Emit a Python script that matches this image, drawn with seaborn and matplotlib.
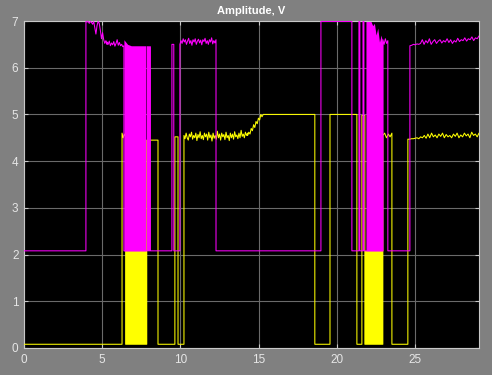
import numpy as np
import pandas as pd
import matplotlib
matplotlib.use("Agg")
import matplotlib.pyplot as plt
import seaborn as sns

# ---------------- data ----------------
x_ticks = [0, 5, 10, 15, 20, 25]
y_ticks = [0, 1, 2, 3, 4, 5, 6, 7]
title = "Amplitude, V"

# magenta signal: segment edges and the level (or noisy samples) of each segment
mag_edges = [0, 3.96, 5.31, 6.39, 7.80, 7.90, 7.96, 8.03, 8.08, 9.46, 9.58, 9.97,
             12.28, 18.99, 20.97, 21.42, 21.48, 21.68, 21.74, 21.87, 22.95, 23.27,
             24.68, 29.1]
mag_noise_a = [6.99, 6.98, 6.99, 6.95, 6.99, 6.97, 6.93, 6.99, 6.85, 6.72, 6.9, 6.99,
               6.95, 6.8, 6.62, 6.75, 6.6, 6.52, 6.58, 6.5]
mag_noise_b = [6.55, 6.5, 6.57, 6.47, 6.53, 6.49, 6.56, 6.46, 6.52, 6.6, 6.48, 6.54,
               6.47, 6.5, 6.45, 6.47]
mag_noise_c = [6.5, 6.58, 6.52, 6.62, 6.55, 6.6, 6.5, 6.57, 6.63, 6.52, 6.58, 6.48,
               6.6, 6.55, 6.62, 6.5, 6.57, 6.61, 6.53, 6.59, 6.49, 6.6, 6.56, 6.63,
               6.52, 6.58, 6.5, 6.6, 6.55, 6.64, 6.51, 6.58, 6.53, 6.6]
mag_noise_d = [6.6, 6.5, 6.62, 6.52, 6.58]
mag_noise_e = [6.47, 6.48, 6.5, 6.49, 6.51, 6.5, 6.52, 6.6, 6.5, 6.58, 6.53, 6.62,
               6.5, 6.56, 6.6, 6.52, 6.57, 6.6, 6.53, 6.58, 6.55, 6.62, 6.54, 6.6,
               6.52, 6.58, 6.55, 6.63, 6.56, 6.6, 6.58, 6.64, 6.57, 6.62, 6.6, 6.66,
               6.58, 6.64, 6.62, 6.68]
mag_levels = [2.08, mag_noise_a, mag_noise_b, 2.08, 2.08, 6.45, 2.08, 6.45, 2.08, 6.5,
              2.08, mag_noise_c, 2.08, 6.99, 2.08, 6.99, 2.08, 6.99, 2.08, 2.08,
              mag_noise_d, 2.08, mag_noise_e]
# dense switching bursts: (start, end, low, top samples)
mag_bursts = [(6.39, 7.80, 2.08, [6.6, 6.5, 6.47, 6.47, 6.47, 6.47, 6.47]),
              (21.87, 22.95, 2.08, [6.99, 6.99, 6.99, 6.99, 6.9, 6.95, 6.7, 6.85, 6.55, 6.7, 6.5])]

# yellow signal
yel_edges = [0, 6.27, 6.50, 7.85, 8.57, 9.65, 9.85, 10.23, 14.3, 15.3, 18.6, 19.57,
             21.29, 21.61, 21.80, 22.95, 23.53, 24.55, 29.1]
yel_noise_a = [4.6, 4.5, 4.58, 4.52]
yel_noise_b = [4.55, 4.48, 4.6, 4.5, 4.45, 4.58, 4.52, 4.62, 4.47, 4.55, 4.5, 4.6, 4.44,
               4.57, 4.5, 4.63, 4.48, 4.55, 4.46, 4.6, 4.52, 4.58, 4.45, 4.62, 4.5,
               4.56, 4.43, 4.6, 4.49, 4.55, 4.47, 4.64, 4.5, 4.58, 4.45, 4.6, 4.52,
               4.57, 4.46, 4.62, 4.5, 4.55, 4.44, 4.6, 4.5, 4.58, 4.47, 4.63, 4.52,
               4.56, 4.48, 4.6, 4.5, 4.66, 4.53, 4.58, 4.5, 4.62, 4.55, 4.6]
yel_rise = [4.55, 4.62, 4.58, 4.7, 4.65, 4.78, 4.72, 4.85, 4.8, 4.92, 4.88, 5.0, 4.95, 5.0]
yel_noise_c = [4.55, 4.6, 4.5, 4.58, 4.52, 4.6]
yel_noise_d = [4.47, 4.47, 4.48, 4.48, 4.49, 4.5, 4.48, 4.52, 4.5, 4.55, 4.49, 4.58,
               4.5, 4.6, 4.52, 4.56, 4.5, 4.58, 4.53, 4.6, 4.5, 4.57, 4.52, 4.55, 4.5,
               4.58, 4.53, 4.6, 4.5, 4.56, 4.52, 4.6, 4.54, 4.58, 4.5, 4.62, 4.55, 4.58,
               4.52, 4.6]
yel_levels = [0.08, yel_noise_a, 0.08, 4.45, 0.08, 4.52, 0.08, yel_noise_b, yel_rise,
              5.0, 0.08, 5.0, 0.08, 4.98, 0.08, yel_noise_c, 0.08, yel_noise_d]
yel_bursts = [(6.55, 7.85, 0.08, [2.07, 2.07]),
              (21.80, 22.95, 0.08, [2.07, 2.07])]


def build(edges, levels):
    xs, ys = [], []
    for t0, t1, lv in zip(edges[:-1], edges[1:], levels):
        if isinstance(lv, list):
            xs.extend(np.linspace(t0, t1, len(lv)))
            ys.extend(lv)
        else:
            xs.extend([t0, t1])
            ys.extend([lv, lv])
    return pd.DataFrame({"t": xs, "v": ys})


mag_df = build(mag_edges, mag_levels)
yel_df = build(yel_edges, yel_levels)

# ---------------- style ----------------
BG = "#808080"
FG = "#e6e6e6"
sns.set_style("dark", {"axes.facecolor": "black", "figure.facecolor": BG,
                       "axes.edgecolor": "#c8c8c8", "grid.color": "#6a6a6a",
                       "xtick.color": FG, "ytick.color": FG})
plt.rcParams["font.family"] = ["Liberation Sans", "DejaVu Sans"]

fig = plt.figure(figsize=(4.92, 3.75), dpi=100, facecolor=BG)
ax = fig.add_axes([24 / 492, 1 - 348 / 375, (479 - 24) / 492, (348 - 21) / 375])
ax.set_facecolor("black")

YEL = "#ffff00"
MAG = "#ff00ff"

for t0, t1, lo, tops in yel_bursts:
    bx = np.linspace(t0, t1, len(tops))
    ax.fill_between(bx, lo, tops, color=YEL, lw=0, zorder=2)
sns.lineplot(data=yel_df, x="t", y="v", sort=False, estimator=None, color=YEL,
             lw=0.75, ax=ax, zorder=3)

for t0, t1, lo, tops in mag_bursts:
    bx = np.linspace(t0, t1, len(tops))
    ax.fill_between(bx, lo, tops, color=MAG, lw=0, zorder=4)
sns.lineplot(data=mag_df, x="t", y="v", sort=False, estimator=None, color=MAG,
             lw=0.75, ax=ax, zorder=5)

ax.set_xlim(0, 29.1)
ax.set_ylim(0, 7)
ax.set_xticks(x_ticks)
ax.set_yticks(y_ticks)
ax.set_xticklabels([str(v) for v in x_ticks])
ax.set_yticklabels([str(v) for v in y_ticks])
ax.set_xlabel("")
ax.set_ylabel("")
ax.grid(True, color="#6a6a6a", lw=0.8)
ax.set_axisbelow(True)
ax.tick_params(direction="in", length=3, width=0.8, colors=FG, labelsize=8.5,
               top=True, right=True, left=True, bottom=True, pad=4)
ax.tick_params(axis="x", colors="#c8c8c8", labelcolor=FG)
ax.tick_params(axis="y", colors="#c8c8c8", labelcolor=FG)
for s in ax.spines.values():
    s.set_color("#c8c8c8")
    s.set_linewidth(0.8)
    s.set_visible(True)
ax.set_title(title, color="white", fontsize=8, fontweight="bold", pad=5)

fig.savefig("out.png", dpi=100, facecolor=BG)
